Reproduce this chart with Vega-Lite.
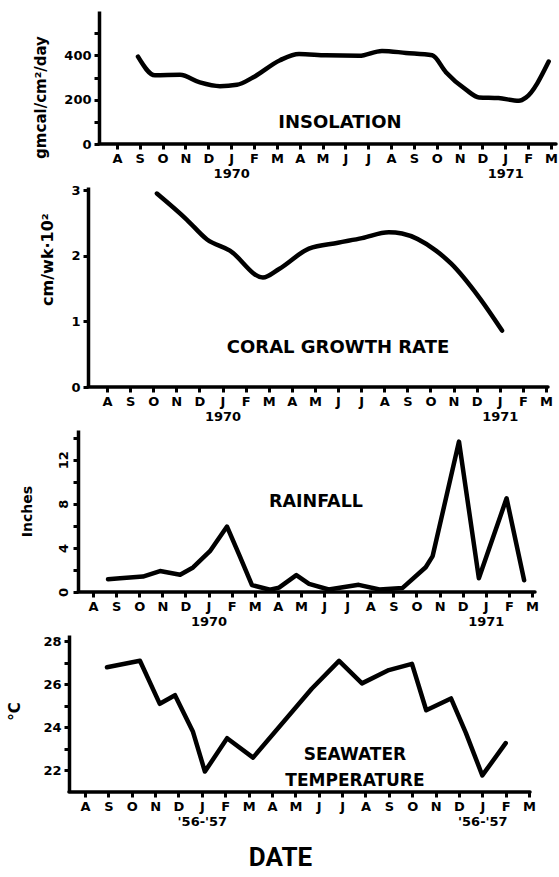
{
  "$schema": "https://vega.github.io/schema/vega-lite/v6.json",
  "background": "white",
  "padding": {"left": 7, "top": 11, "right": 0, "bottom": 4},
  "bounds": "flush",
  "spacing": 43,
  "config": {
    "view": {"stroke": null},
    "font": "DejaVu Sans",
    "axis": {
      "grid": false,
      "domainColor": "black",
      "domainWidth": 3.5,
      "tickColor": "black",
      "tickWidth": 3,
      "tickSize": 5,
      "labelColor": "black",
      "labelFont": "DejaVu Sans",
      "labelFontWeight": "bold",
      "labelFontSize": 13,
      "labelPadding": 3,
      "labelOverlap": false,
      "titleColor": "black",
      "titleFont": "DejaVu Sans",
      "titleFontWeight": "bold",
      "titleFontSize": 15
    },
    "line": {"color": "black", "strokeWidth": 4.5, "strokeCap": "round", "strokeJoin": "round"},
    "text": {"color": "black", "font": "DejaVu Sans", "fontWeight": "bold"}
  },
  "datasets": {
    "insolation": [
      {"month": 0.92, "value": 394}, {"month": 1.66, "value": 310}, {"month": 2.76, "value": 312},
      {"month": 3.63, "value": 278}, {"month": 4.51, "value": 261}, {"month": 5.25, "value": 267},
      {"month": 5.95, "value": 300}, {"month": 7.14, "value": 378}, {"month": 7.97, "value": 406},
      {"month": 9.15, "value": 400}, {"month": 10.6, "value": 398}, {"month": 11.6, "value": 420},
      {"month": 12.65, "value": 411}, {"month": 13.8, "value": 400}, {"month": 14.4, "value": 324},
      {"month": 15.28, "value": 245}, {"month": 15.85, "value": 210}, {"month": 16.7, "value": 207},
      {"month": 17.6, "value": 195}, {"month": 17.9, "value": 209}, {"month": 18.9, "value": 372}
    ],
    "coral": [
      {"month": 2.16, "value": 2.95}, {"month": 3.46, "value": 2.55}, {"month": 4.33, "value": 2.25},
      {"month": 5.32, "value": 2.08}, {"month": 6.75, "value": 1.67}, {"month": 7.45, "value": 1.8},
      {"month": 8.74, "value": 2.11}, {"month": 10.0, "value": 2.2}, {"month": 11.04, "value": 2.27},
      {"month": 12.2, "value": 2.36}, {"month": 12.77, "value": 2.34}, {"month": 14.24, "value": 2.08},
      {"month": 14.9, "value": 1.88}, {"month": 16.1, "value": 1.37}, {"month": 17.1, "value": 0.86}
    ],
    "rainfall": [
      {"month": 0.65, "value": 1.16}, {"month": 1.17, "value": 1.25}, {"month": 2.16, "value": 1.4},
      {"month": 2.9, "value": 1.9}, {"month": 3.77, "value": 1.57}, {"month": 4.33, "value": 2.23},
      {"month": 5.06, "value": 3.7}, {"month": 5.8, "value": 5.94}, {"month": 6.36, "value": 3.2},
      {"month": 6.88, "value": 0.62}, {"month": 7.66, "value": 0.2}, {"month": 8.05, "value": 0.4},
      {"month": 8.8, "value": 1.53}, {"month": 9.35, "value": 0.74}, {"month": 10.2, "value": 0.23},
      {"month": 11.5, "value": 0.65}, {"month": 12.4, "value": 0.23}, {"month": 13.4, "value": 0.37},
      {"month": 14.4, "value": 2.25}, {"month": 14.7, "value": 3.26}, {"month": 15.84, "value": 13.65},
      {"month": 16.7, "value": 1.25}, {"month": 17.9, "value": 8.5}, {"month": 18.66, "value": 1.06}
    ],
    "temperature": [
      {"month": 0.94, "value": 26.8}, {"month": 2.35, "value": 27.1}, {"month": 3.2, "value": 25.1},
      {"month": 3.85, "value": 25.5}, {"month": 4.62, "value": 23.8}, {"month": 5.13, "value": 21.95},
      {"month": 6.08, "value": 23.5}, {"month": 7.19, "value": 22.6}, {"month": 9.7, "value": 25.8},
      {"month": 10.87, "value": 27.1}, {"month": 11.85, "value": 26.05}, {"month": 13.0, "value": 26.67},
      {"month": 13.99, "value": 26.96}, {"month": 14.6, "value": 24.8}, {"month": 15.66, "value": 25.35},
      {"month": 16.3, "value": 23.74}, {"month": 17.0, "value": 21.77}, {"month": 18.0, "value": 23.27}
    ]
  },
  "vconcat": [
    {
      "width": 487,
      "height": 133,
      "resolve": {"axis": {"x": "independent", "y": "independent"}},
      "layer": [
        {
          "data": {"name": "insolation"},
          "mark": {"type": "line", "interpolate": "monotone"},
          "encoding": {
            "x": {"field": "month", "type": "quantitative",
              "scale": {"domain": [-2.10, 19.22], "nice": false, "zero": false},
              "axis": {"title": null, "domain": false, "values": [0,1,2,3,4,5,6,7,8,9,10,11,12,13,14,15,16,17,18,19],
                "labelOverlap": false, "labelFlush": false, "labelBound": false, "labelLineHeight": 15,
                "labelExpr": "datum.value == 5 ? ['J', '1970'] : datum.value == 17 ? ['J', '1971'] : ['A','S','O','N','D','J','F','M','A','M','J','J','A','S','O','N','D','J','F','M'][datum.value]"}},
            "y": {"field": "value", "type": "quantitative",
              "scale": {"domain": [0, 600], "nice": false, "zero": false},
              "axis": {"values": [0,100,200,300,400,500], "labelExpr": "datum.value % 200 == 0 ? datum.label : ''",
                "offset": -30, "title": "gmcal/cm²/day", "titleFontSize": 15, "titleAngle": 270,
                "titleAlign": "center", "titleBaseline": "middle", "titleX": -59, "titleY": 86}}
          }
        },
        {
          "data": {"values": [{}]},
          "mark": {"type": "rule", "color": "black", "strokeWidth": 3.5, "strokeCap": "round"},
          "encoding": {
            "x": {"datum": -0.79, "type": "quantitative", "axis": {"domain": false, "ticks": false, "labels": false, "title": null}},
            "x2": {"datum": 19.22},
            "y": {"datum": 0, "type": "quantitative", "axis": {"domain": false, "ticks": false, "labels": false, "title": null}}}
        },
        {
          "data": {"values": [{}]},
          "mark": {"type": "text", "fontSize": 18, "baseline": "middle", "align": "center"},
          "encoding": {
            "x": {"datum": 9.76, "type": "quantitative", "axis": {"domain": false, "ticks": false, "labels": false, "title": null}},
            "y": {"datum": 95, "type": "quantitative", "axis": {"domain": false, "ticks": false, "labels": false, "title": null}},
            "text": {"value": "INSOLATION"}}
        }
      ]
    },
    {
      "width": 479,
      "height": 200,
      "resolve": {"axis": {"x": "independent", "y": "independent"}},
      "layer": [
        {
          "data": {"name": "coral"},
          "mark": {"type": "line", "interpolate": "monotone"},
          "encoding": {
            "x": {"field": "month", "type": "quantitative",
              "scale": {"domain": [-1.645, 19.09], "nice": false, "zero": false},
              "axis": {"title": null, "domain": false, "values": [0,1,2,3,4,5,6,7,8,9,10,11,12,13,14,15,16,17,18,19],
                "labelOverlap": false, "labelFlush": false, "labelBound": false, "labelLineHeight": 15,
                "labelExpr": "datum.value == 5 ? ['J', '1970'] : datum.value == 17 ? ['J', '1971'] : ['A','S','O','N','D','J','F','M','A','M','J','J','A','S','O','N','D','J','F','M'][datum.value]"}},
            "y": {"field": "value", "type": "quantitative",
              "scale": {"domain": [0, 3.05], "nice": false, "zero": false},
              "axis": {"values": [0,1,2,3], "format": "d", "offset": -19, "title": "cm/wk·10²", "titleFontSize": 16, "titleAngle": 270,
                "titleAlign": "center", "titleBaseline": "middle", "titleX": -41, "titleY": 72}}
          }
        },
        {
          "data": {"values": [{}]},
          "mark": {"type": "rule", "color": "black", "strokeWidth": 3.5, "strokeCap": "round"},
          "encoding": {
            "x": {"datum": -0.82, "type": "quantitative", "axis": {"domain": false, "ticks": false, "labels": false, "title": null}},
            "x2": {"datum": 19.09},
            "y": {"datum": 0, "type": "quantitative", "axis": {"domain": false, "ticks": false, "labels": false, "title": null}}}
        },
        {
          "data": {"values": [{}]},
          "mark": {"type": "text", "fontSize": 18, "baseline": "middle", "align": "center"},
          "encoding": {
            "x": {"datum": 10.0, "type": "quantitative", "axis": {"domain": false, "ticks": false, "labels": false, "title": null}},
            "y": {"datum": 0.59, "type": "quantitative", "axis": {"domain": false, "ticks": false, "labels": false, "title": null}},
            "text": {"value": "CORAL GROWTH  RATE"}}
        }
      ]
    },
    {
      "width": 466,
      "height": 162,
      "resolve": {"axis": {"x": "independent", "y": "independent"}},
      "layer": [
        {
          "data": {"name": "rainfall"},
          "mark": {"type": "line"},
          "encoding": {
            "x": {"field": "month", "type": "quantitative",
              "scale": {"domain": [-1.04, 19.13], "nice": false, "zero": false},
              "axis": {"title": null, "domain": false, "values": [0,1,2,3,4,5,6,7,8,9,10,11,12,13,14,15,16,17,18,19],
                "labelOverlap": false, "labelFlush": false, "labelBound": false, "labelLineHeight": 15,
                "labelExpr": "datum.value == 5 ? ['J', '1970'] : datum.value == 17 ? ['J', '1971'] : ['A','S','O','N','D','J','F','M','A','M','J','J','A','S','O','N','D','J','F','M'][datum.value]"}},
            "y": {"field": "value", "type": "quantitative",
              "scale": {"domain": [0, 14.7], "nice": false, "zero": false},
              "axis": {"values": [0,2,4,6,8,10,12,14], "labelExpr": "datum.value % 4 == 0 ? datum.label : ''",
                "labelAngle": 270, "labelAlign": "center", "labelBaseline": "bottom",
                "offset": -9, "title": "Inches", "titleFontSize": 14, "titleAngle": 270,
                "titleAlign": "center", "titleBaseline": "middle", "titleX": -51, "titleY": 81}}
          }
        },
        {
          "data": {"values": [{}]},
          "mark": {"type": "rule", "color": "black", "strokeWidth": 3.5, "strokeCap": "round"},
          "encoding": {
            "x": {"datum": -0.65, "type": "quantitative", "axis": {"domain": false, "ticks": false, "labels": false, "title": null}},
            "x2": {"datum": 19.13},
            "y": {"datum": 0, "type": "quantitative", "axis": {"domain": false, "ticks": false, "labels": false, "title": null}}}
        },
        {
          "data": {"values": [{}]},
          "mark": {"type": "text", "fontSize": 17.5, "baseline": "middle", "align": "center"},
          "encoding": {
            "x": {"datum": 9.65, "type": "quantitative", "axis": {"domain": false, "ticks": false, "labels": false, "title": null}},
            "y": {"datum": 8.17, "type": "quantitative", "axis": {"domain": false, "ticks": false, "labels": false, "title": null}},
            "text": {"value": "RAINFALL"}}
        }
      ]
    },
    {
      "width": 461,
      "height": 157,
      "resolve": {"axis": {"x": "independent", "y": "independent"}},
      "layer": [
        {
          "data": {"name": "temperature"},
          "mark": {"type": "line"},
          "encoding": {
            "x": {"field": "month", "type": "quantitative",
              "scale": {"domain": [-0.685, 19.04], "nice": false, "zero": false},
              "axis": {"domain": false, "values": [0,1,2,3,4,5,6,7,8,9,10,11,12,13,14,15,16,17,18,19],
                "labelOverlap": false, "labelFlush": false, "labelBound": false, "labelLineHeight": 15,
                "labelExpr": "datum.value == 5 ? ['J', \"'56-'57\"] : datum.value == 17 ? ['J', \"'56-'57\"] : ['A','S','O','N','D','J','F','M','A','M','J','J','A','S','O','N','D','J','F','M'][datum.value]",
                "title": "DATE", "titleFont": "Roboto", "titleFontWeight": "bold", "titleFontSize": 26,
                "titleAlign": "center", "titleBaseline": "middle", "titleX": 211, "titleY": 65}},
            "y": {"field": "value", "type": "quantitative",
              "scale": {"domain": [21, 28.3], "nice": false, "zero": false},
              "axis": {"values": [22,23,24,25,26,27,28], "labelExpr": "datum.value % 2 == 0 ? datum.label : ''",
                "offset": 0, "title": "°C", "titleFontSize": 15, "titleAngle": 270,
                "titleAlign": "center", "titleBaseline": "middle", "titleX": -55, "titleY": 76}}
          }
        },
        {
          "data": {"values": [{}]},
          "mark": {"type": "rule", "color": "black", "strokeWidth": 3.5, "strokeCap": "round"},
          "encoding": {
            "x": {"datum": -0.685, "type": "quantitative", "axis": {"domain": false, "ticks": false, "labels": false, "title": null}},
            "x2": {"datum": 19.04},
            "y": {"datum": 21, "type": "quantitative", "axis": {"domain": false, "ticks": false, "labels": false, "title": null}}}
        },
        {
          "data": {"values": [{}]},
          "mark": {"type": "text", "fontSize": 17, "baseline": "middle", "align": "center", "lineHeight": 26},
          "encoding": {
            "x": {"datum": 11.55, "type": "quantitative", "axis": {"domain": false, "ticks": false, "labels": false, "title": null}},
            "y": {"datum": 22.72, "type": "quantitative", "axis": {"domain": false, "ticks": false, "labels": false, "title": null}},
            "text": {"value": ["SEAWATER", "TEMPERATURE"]}}
        }
      ]
    }
  ]
}
